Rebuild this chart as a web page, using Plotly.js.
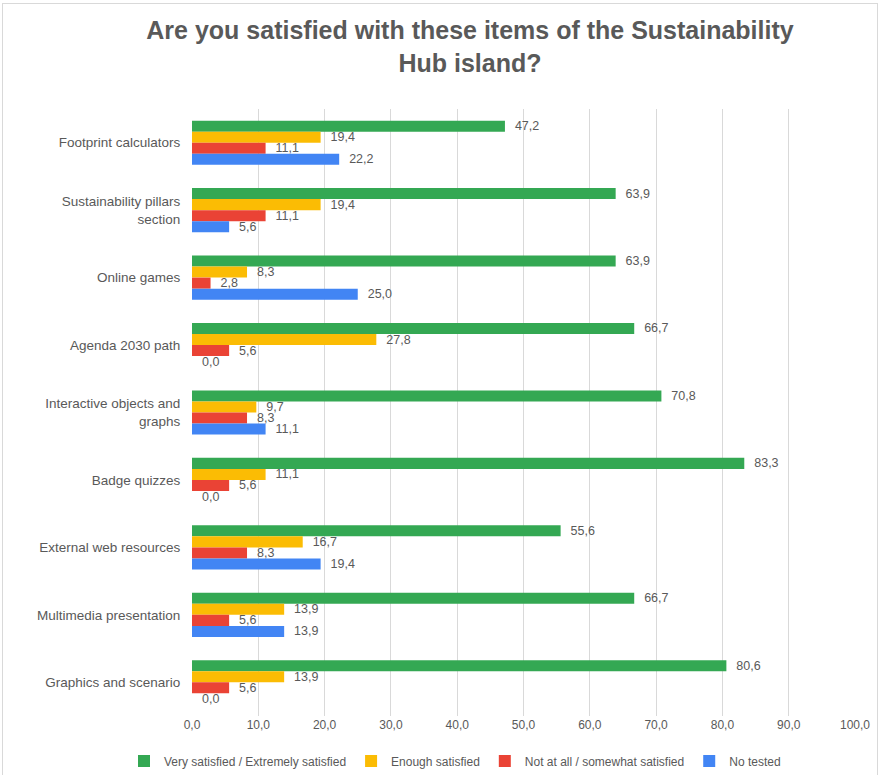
<!DOCTYPE html>
<html>
<head>
<meta charset="utf-8">
<script src="https://cdn.plot.ly/plotly-3.0.1.min.js"></script>
<style>
html,body{margin:0;padding:0;background:#fff;}
#wrap{position:relative;width:882px;height:775px;}
#chart{width:882px;height:775px;}
#frame{position:absolute;left:2px;top:3px;width:876px;height:775px;border:1px solid #d9d9d9;border-bottom:none;pointer-events:none;box-sizing:border-box;}
</style>
</head>
<body>
<div id="wrap"><div id="chart"></div><div id="frame"></div></div>
<script>
const categories = [
  "Footprint calculators",
  "Sustainability pillars<br>section",
  "Online games",
  "Agenda 2030 path",
  "Interactive objects and<br>graphs",
  "Badge quizzes",
  "External web resources",
  "Multimedia presentation",
  "Graphics and scenario"
];
const seriesNames = [
  "Very satisfied / Extremely satisfied",
  "Enough satisfied",
  "Not at all / somewhat satisfied",
  "No tested"
];
const verySatisfied = [47.2, 63.9, 63.9, 66.7, 70.8, 83.3, 55.6, 66.7, 80.6];
const enoughSatisfied = [19.4, 19.4, 8.3, 27.8, 9.7, 11.1, 16.7, 13.9, 13.9];
const notSatisfied = [11.1, 11.1, 2.8, 5.6, 8.3, 5.6, 8.3, 5.6, 5.6];
const noTested = [22.2, 5.6, 25.0, 0.0, 11.1, 0.0, 19.4, 13.9, 0.0];
const colors = ["#34a853", "#fbbc04", "#ea4335", "#4285f4"];
const xTicks = [0,10,20,30,40,50,60,70,80,90,100];

const allSeries = [verySatisfied, enoughSatisfied, notSatisfied, noTested];
const traces = allSeries.map((vals, i) => ({
  type: "bar",
  orientation: "h",
  name: seriesNames[i],
  y: categories,
  x: vals,
  marker: {color: colors[i]},
  texttemplate: "\u00a0\u00a0%{x:.1f}",
  textposition: "outside",
  constraintext: "none",
  cliponaxis: false,
  textfont: {family: "Liberation Sans, Arial, sans-serif", size: 12.5, color: "#595959"},
  hoverinfo: "x+name"
}));

const layout = {
  width: 882,
  height: 775,
  paper_bgcolor: "#ffffff",
  plot_bgcolor: "#ffffff",
  separators: ",.",
  font: {family: "Liberation Sans, Arial, sans-serif", color: "#595959", size: 12},
  title: {
    text: "<b>Are you satisfied with these items of the Sustainability<br>Hub island?</b>",
    font: {family: "Liberation Sans, Arial, sans-serif", size: 25, color: "#595959"},
    x: 470/882, xanchor: "center", xref: "container",
    y: 1 - 39/775, yanchor: "top", yref: "container"
  },
  margin: {l: 192, r: 27, t: 109, b: 59, autoexpand: false},
  barmode: "group",
  bargap: 0.345,
  bargroupgap: 0,
  xaxis: {
    range: [0, 100],
    tickvals: xTicks,
    tickformat: ".1f",
    showgrid: true,
    gridcolor: "#d9d9d9",
    gridwidth: 1,
    zeroline: false,
    showline: false,
    ticks: "",
    tickfont: {size: 12, color: "#595959"},
    fixedrange: true
  },
  yaxis: {
    type: "category",
    autorange: "reversed",
    showgrid: false,
    zeroline: false,
    showline: false,
    ticks: "outside",
    ticklen: 8,
    tickcolor: "rgba(0,0,0,0)",
    tickfont: {size: 13.5, color: "#595959"},
    fixedrange: true
  },
  showlegend: true,
  legend: {
    orientation: "h",
    xref: "container",
    x: 455/882,
    xanchor: "center",
    yref: "container",
    y: 1 - 761/775,
    yanchor: "middle",
    font: {size: 12, color: "#595959"},
    itemwidth: 30,
    traceorder: "normal"
  }
};

Plotly.newPlot("chart", traces, layout, {displayModeBar: false, responsive: false});
</script>
</body>
</html>
